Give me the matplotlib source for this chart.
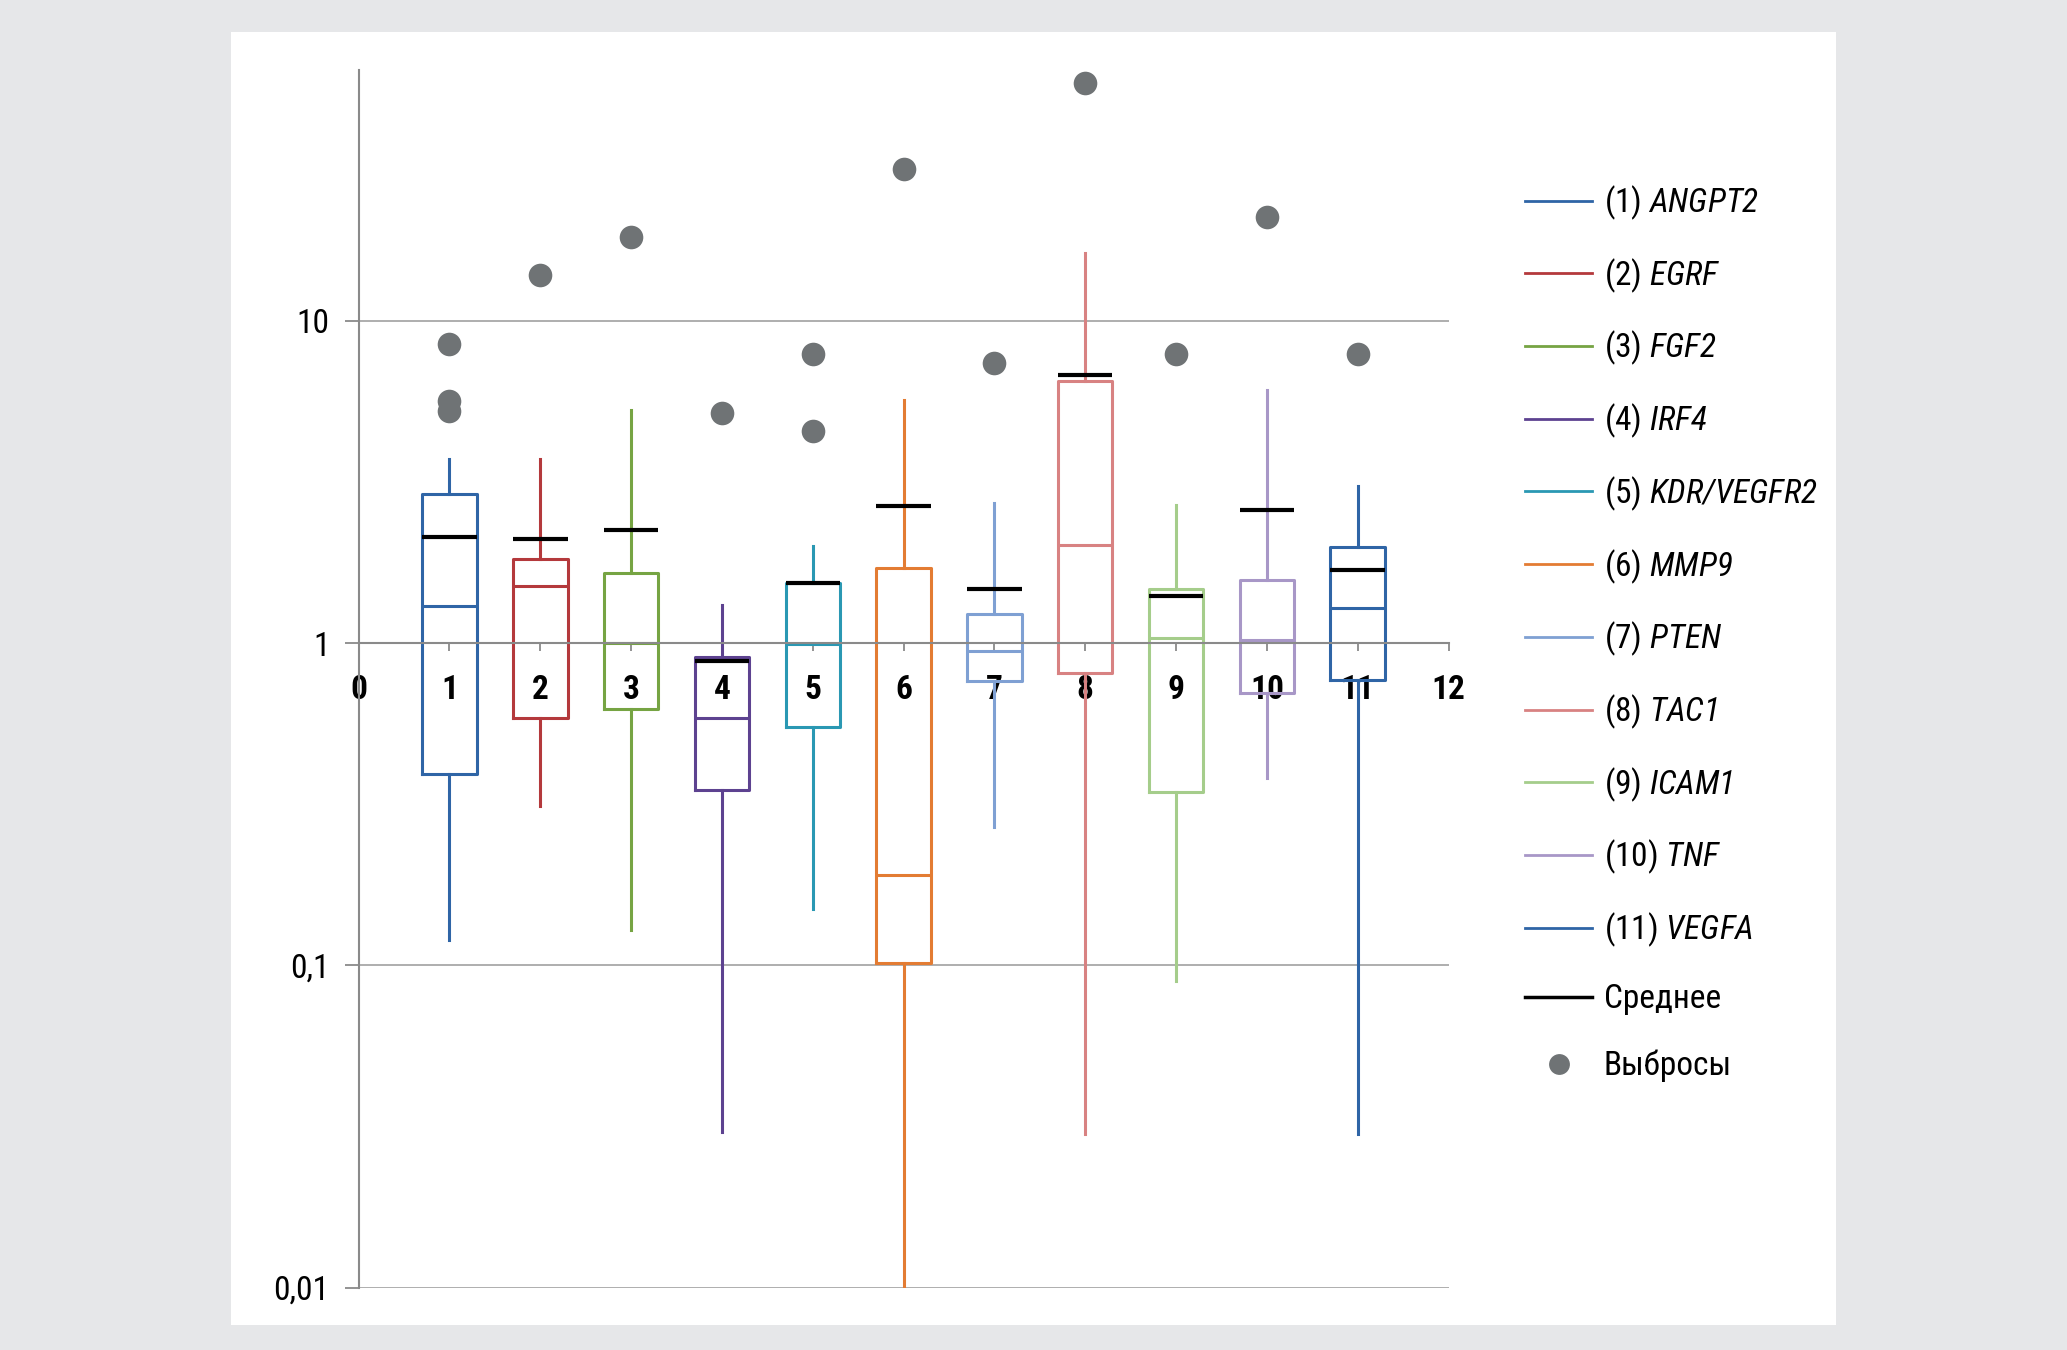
import matplotlib
matplotlib.use('Agg')
from matplotlib import pyplot as plt
from matplotlib.lines import Line2D
from matplotlib.patches import Rectangle

plt.rcParams['font.family'] = ['Roboto Condensed', 'Liberation Sans', 'DejaVu Sans']
plt.rcParams['mathtext.fontset'] = 'custom'
# digits in math mode come from "rm", so make it italic too
plt.rcParams['mathtext.rm'] = 'Roboto Condensed:italic'
plt.rcParams['mathtext.it'] = 'Roboto Condensed:italic'

# expression values (log scale)
genes = ['ANGPT2', 'EGRF', 'FGF2', 'IRF4', 'KDR/VEGFR2', 'MMP9', 'PTEN', 'TAC1', 'ICAM1', 'TNF', 'VEGFA']
colors = ['#2f65a6', '#b4393c', '#76a443', '#5d4290', '#2a98b3', '#e37c33',
          '#7fa0d3', '#d88282', '#a5cd8b', '#a897c7', '#2f65a6']
whislo = [0.12, 0.312, 0.129, 0.0303, 0.15, 0.01, 0.268, 0.03, 0.0893, 0.38, 0.03]
q1 = [0.391, 0.585, 0.625, 0.349, 0.548, 0.102, 0.762, 0.806, 0.346, 0.70, 0.769]
med = [1.30, 1.50, 1.0, 0.585, 0.99, 0.191, 0.945, 2.02, 1.04, 1.02, 1.28]
q3 = [2.89, 1.82, 1.65, 0.902, 1.54, 1.71, 1.23, 6.49, 1.47, 1.57, 1.99]
whishi = [3.73, 3.73, 5.28, 1.31, 2.0, 5.69, 2.71, 16.2, 2.68, 6.08, 3.06]
means = [2.14, 2.10, 2.24, 0.877, 1.54, 2.66, 1.47, 6.8, 1.40, 2.58, 1.69]
outliers = [[8.45, 5.64, 5.23], [13.9], [18.2], [5.18], [7.9, 4.54], [29.5],
            [7.4], [54.8], [7.9], [21.0], [7.9]]

stats = []
for i in range(len(genes)):
    stats.append({'label': str(i + 1), 'whislo': whislo[i], 'q1': q1[i], 'med': med[i],
                  'q3': q3[i], 'whishi': whishi[i], 'mean': means[i], 'fliers': outliers[i]})

fig = plt.figure(figsize=(20.67, 13.5), dpi=100, facecolor='#e6e7e9')
fig.patches.append(Rectangle((0.1117, 0.0185), 0.7766, 0.9575, transform=fig.transFigure,
                             facecolor='white', edgecolor='none', zorder=-10))

ax = fig.add_axes([0.1735, 0.0462, 0.5273, 0.902])
ax.set_facecolor('none')
ax.set_yscale('log')
ax.set_ylim(0.01, 60)
ax.set_xlim(0, 12)

grid_c = '#a8a8a8'
for y in [0.01, 0.1, 10]:
    ax.axhline(y, color=grid_c, linewidth=1.3, zorder=1)

res = ax.bxp(stats, positions=range(1, 12), widths=0.6, showmeans=True, meanline=True,
             showcaps=False, manage_ticks=False,
             boxprops=dict(linewidth=2.2),
             whiskerprops=dict(linewidth=2.2),
             medianprops=dict(linewidth=2.2),
             meanprops=dict(color='black', linewidth=3, linestyle='-'),
             flierprops=dict(marker='o', markerfacecolor='#6f7375', markeredgecolor='none',
                             markersize=17))
for i, c in enumerate(colors):
    res['boxes'][i].set_color(c)
    res['medians'][i].set_color(c)
    res['whiskers'][2 * i].set_color(c)
    res['whiskers'][2 * i + 1].set_color(c)
for m in res['means']:
    m.set_zorder(4)

# axes styling
ax.spines['top'].set_visible(False)
ax.spines['right'].set_visible(False)
ax.spines['left'].set_color('#8a8a8a')
ax.spines['left'].set_linewidth(1.5)
ax.spines['bottom'].set_position(('data', 1))
ax.spines['bottom'].set_color('#8a8a8a')
ax.spines['bottom'].set_linewidth(1.5)

ax.set_yticks([0.01, 0.1, 1, 10])
ax.set_yticklabels(['0,01', '0,1', '1', '10'])
ax.minorticks_off()
ax.tick_params(axis='y', length=10, width=1.3, color='#8a8a8a', labelsize=24, pad=11)
ax.set_xticks(range(0, 13))
ax.set_xticklabels([str(i) for i in range(0, 13)], fontweight='bold')
ax.tick_params(axis='x', length=6, width=1.3, color='#8a8a8a', labelsize=24, pad=16)

# legend
handles = [Line2D([], [], color=c, linewidth=2) for c in colors]
labels = ['(%d) $\\mathit{%s}$' % (i + 1, g) for i, g in enumerate(genes)]
handles.append(Line2D([], [], color='black', linewidth=2.5))
labels.append('Среднее')
handles.append(Line2D([], [], linestyle='none', marker='o', markersize=15,
                      markerfacecolor='#6f7375', markeredgecolor='none'))
labels.append('Выбросы')
fig.legend(handles, labels, loc='upper left', bbox_to_anchor=(0.738, 0.864),
           frameon=False, fontsize=24, handlelength=2.0, handletextpad=0.35,
           labelspacing=1.03, borderpad=0, borderaxespad=0)

fig.savefig('out.png', dpi=100, facecolor=fig.get_facecolor())
